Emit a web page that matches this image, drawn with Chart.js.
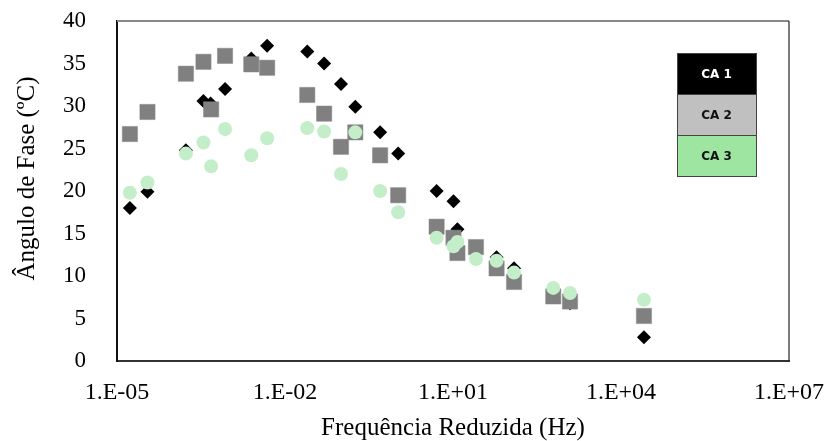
<!DOCTYPE html>
<html>
<head>
<meta charset="utf-8">
<script src="https://cdn.jsdelivr.net/npm/chart.js@4/dist/chart.umd.min.js"></script>
<style>
  html, body { margin: 0; padding: 0; background: #fff; }
  #wrap { width: 827px; height: 441px; }
</style>
</head>
<body>
<div id="wrap"><canvas id="fase"></canvas></div>
<script>
// reduced frequency (Hz) and phase angle for each mixture
const ca1Freq  = [1.7e-5, 3.5e-5, 1.7e-4, 3.5e-4, 4.7e-4, 8.5e-4, 2.5e-3, 4.8e-3, 0.025, 0.05, 0.1, 0.18, 0.5, 1.05, 5.1, 10.2, 12, 60, 123, 1230, 25700];
const ca1Phase = [18.0, 19.9, 24.8, 30.6, 30.3, 32.0, 35.6, 37.1, 36.4, 35.0, 32.6, 29.9, 26.9, 24.4, 20.0, 18.8, 15.5, 12.2, 10.9, 6.8, 2.8];

const ca2Freq  = [1.7e-5, 3.5e-5, 1.7e-4, 3.5e-4, 4.8e-4, 8.5e-4, 2.5e-3, 4.8e-3, 0.025, 0.05, 0.1, 0.18, 0.5, 1.05, 5.1, 10.2, 12, 25.7, 60, 123, 617, 1230, 25700];
const ca2Phase = [26.7, 29.3, 33.8, 35.2, 29.6, 35.9, 34.9, 34.5, 31.3, 29.1, 25.2, 26.9, 24.2, 19.5, 15.8, 14.5, 12.7, 13.4, 10.9, 9.3, 7.6, 7.0, 5.3];

const ca3Freq  = [1.7e-5, 3.5e-5, 1.7e-4, 3.5e-4, 4.8e-4, 8.5e-4, 2.5e-3, 4.8e-3, 0.025, 0.05, 0.1, 0.18, 0.5, 1.05, 5.1, 10.2, 12, 25.7, 60, 123, 617, 1230, 25700];
const ca3Phase = [19.8, 21.0, 24.4, 25.7, 22.9, 27.3, 24.2, 26.2, 27.4, 27.0, 22.0, 26.9, 20.0, 17.5, 14.5, 13.5, 14.0, 12.0, 11.8, 10.4, 8.6, 8.0, 7.2];

const seriesNames = ['CA 1', 'CA 2', 'CA 3'];
const xTickValues = [1e-5, 1e-2, 1e1, 1e4, 1e7];
const xTickLabels = ['1.E-05', '1.E-02', '1.E+01', '1.E+04', '1.E+07'];

const serif = "'Liberation Serif', 'Times New Roman', serif";

function pts(xs, ys){ return xs.map((x, i) => ({x, y: ys[i]})); }

// boxed legend on the right + top/right frame lines
const framePlugin = {
  id: 'frame',
  afterDraw(chart){
    const {ctx, chartArea: a} = chart;
    ctx.save();
    ctx.strokeStyle = '#888'; ctx.lineWidth = 2;
    ctx.beginPath(); ctx.moveTo(a.left, a.top); ctx.lineTo(a.right, a.top); ctx.stroke();
    ctx.strokeStyle = '#222'; ctx.lineWidth = 1.2;
    ctx.beginPath(); ctx.moveTo(a.right, a.top); ctx.lineTo(a.right, a.bottom); ctx.stroke();

    const fills = ['#000000', '#c0c0c0', '#9de5a0'];
    const inks  = ['#ffffff', '#111111', '#111111'];
    const w = 79, h = 41;
    const x0 = a.right - 112, y0 = a.top + 32;
    chart.data.datasets.forEach((ds, i) => {
      const y = y0 + i * h;
      ctx.fillStyle = fills[i];
      ctx.fillRect(x0, y, w, h);
      ctx.strokeStyle = '#444'; ctx.lineWidth = 1;
      ctx.strokeRect(x0 + 0.5, y + 0.5, w, h);
      ctx.fillStyle = inks[i];
      ctx.font = "bold 12px 'DejaVu Sans', sans-serif";
      ctx.textAlign = 'center'; ctx.textBaseline = 'middle';
      ctx.fillText(ds.label, x0 + w / 2, y + h / 2 + 1);
    });
    ctx.restore();
  }
};

new Chart(document.getElementById('fase'), {
  type: 'scatter',
  data: {
    datasets: [
      { label: seriesNames[0], data: pts(ca1Freq, ca1Phase), pointStyle: 'rectRot', pointRadius: 7,
        backgroundColor: '#000', borderColor: '#000', borderWidth: 0, order: 3 },
      { label: seriesNames[1], data: pts(ca2Freq, ca2Phase), pointStyle: 'rect', pointRadius: 10.8,
        backgroundColor: '#808080', borderColor: '#8a8a8a', borderWidth: 0.5, order: 2 },
      { label: seriesNames[2], data: pts(ca3Freq, ca3Phase), pointStyle: 'circle', pointRadius: 7,
        backgroundColor: '#c4eec9', borderColor: '#c4eec9', borderWidth: 0, order: 1 }
    ]
  },
  options: {
    responsive: true,
    maintainAspectRatio: false,
    animation: false,
    layout: { padding: { top: 21, right: 38, bottom: 0, left: 0 } },
    plugins: { legend: { display: false }, tooltip: { enabled: false } },
    scales: {
      x: {
        type: 'logarithmic',
        min: 1e-5, max: 1e7,
        grid: { display: false },
        border: { display: true, color: '#333', width: 2 },
        afterBuildTicks: s => { s.ticks = xTickValues.map(v => ({ value: v })); },
        afterFit: s => { s.height = 80; s.paddingLeft = 0; s.paddingRight = 0; },
        ticks: {
          color: '#000', padding: 9, maxRotation: 0,
          font: { family: serif, size: 24 },
          callback: (v, i) => xTickLabels[i]
        },
        title: {
          display: true, text: 'Frequência Reduzida (Hz)', color: '#000',
          font: { family: serif, size: 25 }, padding: { top: 0, bottom: -2 }
        }
      },
      y: {
        min: 0, max: 40,
        grid: { display: false },
        border: { display: true, color: '#111', width: 2 },
        afterFit: s => { s.width = 117; s.paddingTop = 0; s.paddingBottom = 0; },
        ticks: { stepSize: 5, color: '#000', padding: 23, font: { family: serif, size: 23 } },
        title: {
          display: true, text: '    Ângulo de Fase (ºC)', color: '#000',
          font: { family: serif, size: 25 }, padding: { top: 12, bottom: 0 }
        }
      }
    }
  },
  plugins: [framePlugin]
});
</script>
</body>
</html>
